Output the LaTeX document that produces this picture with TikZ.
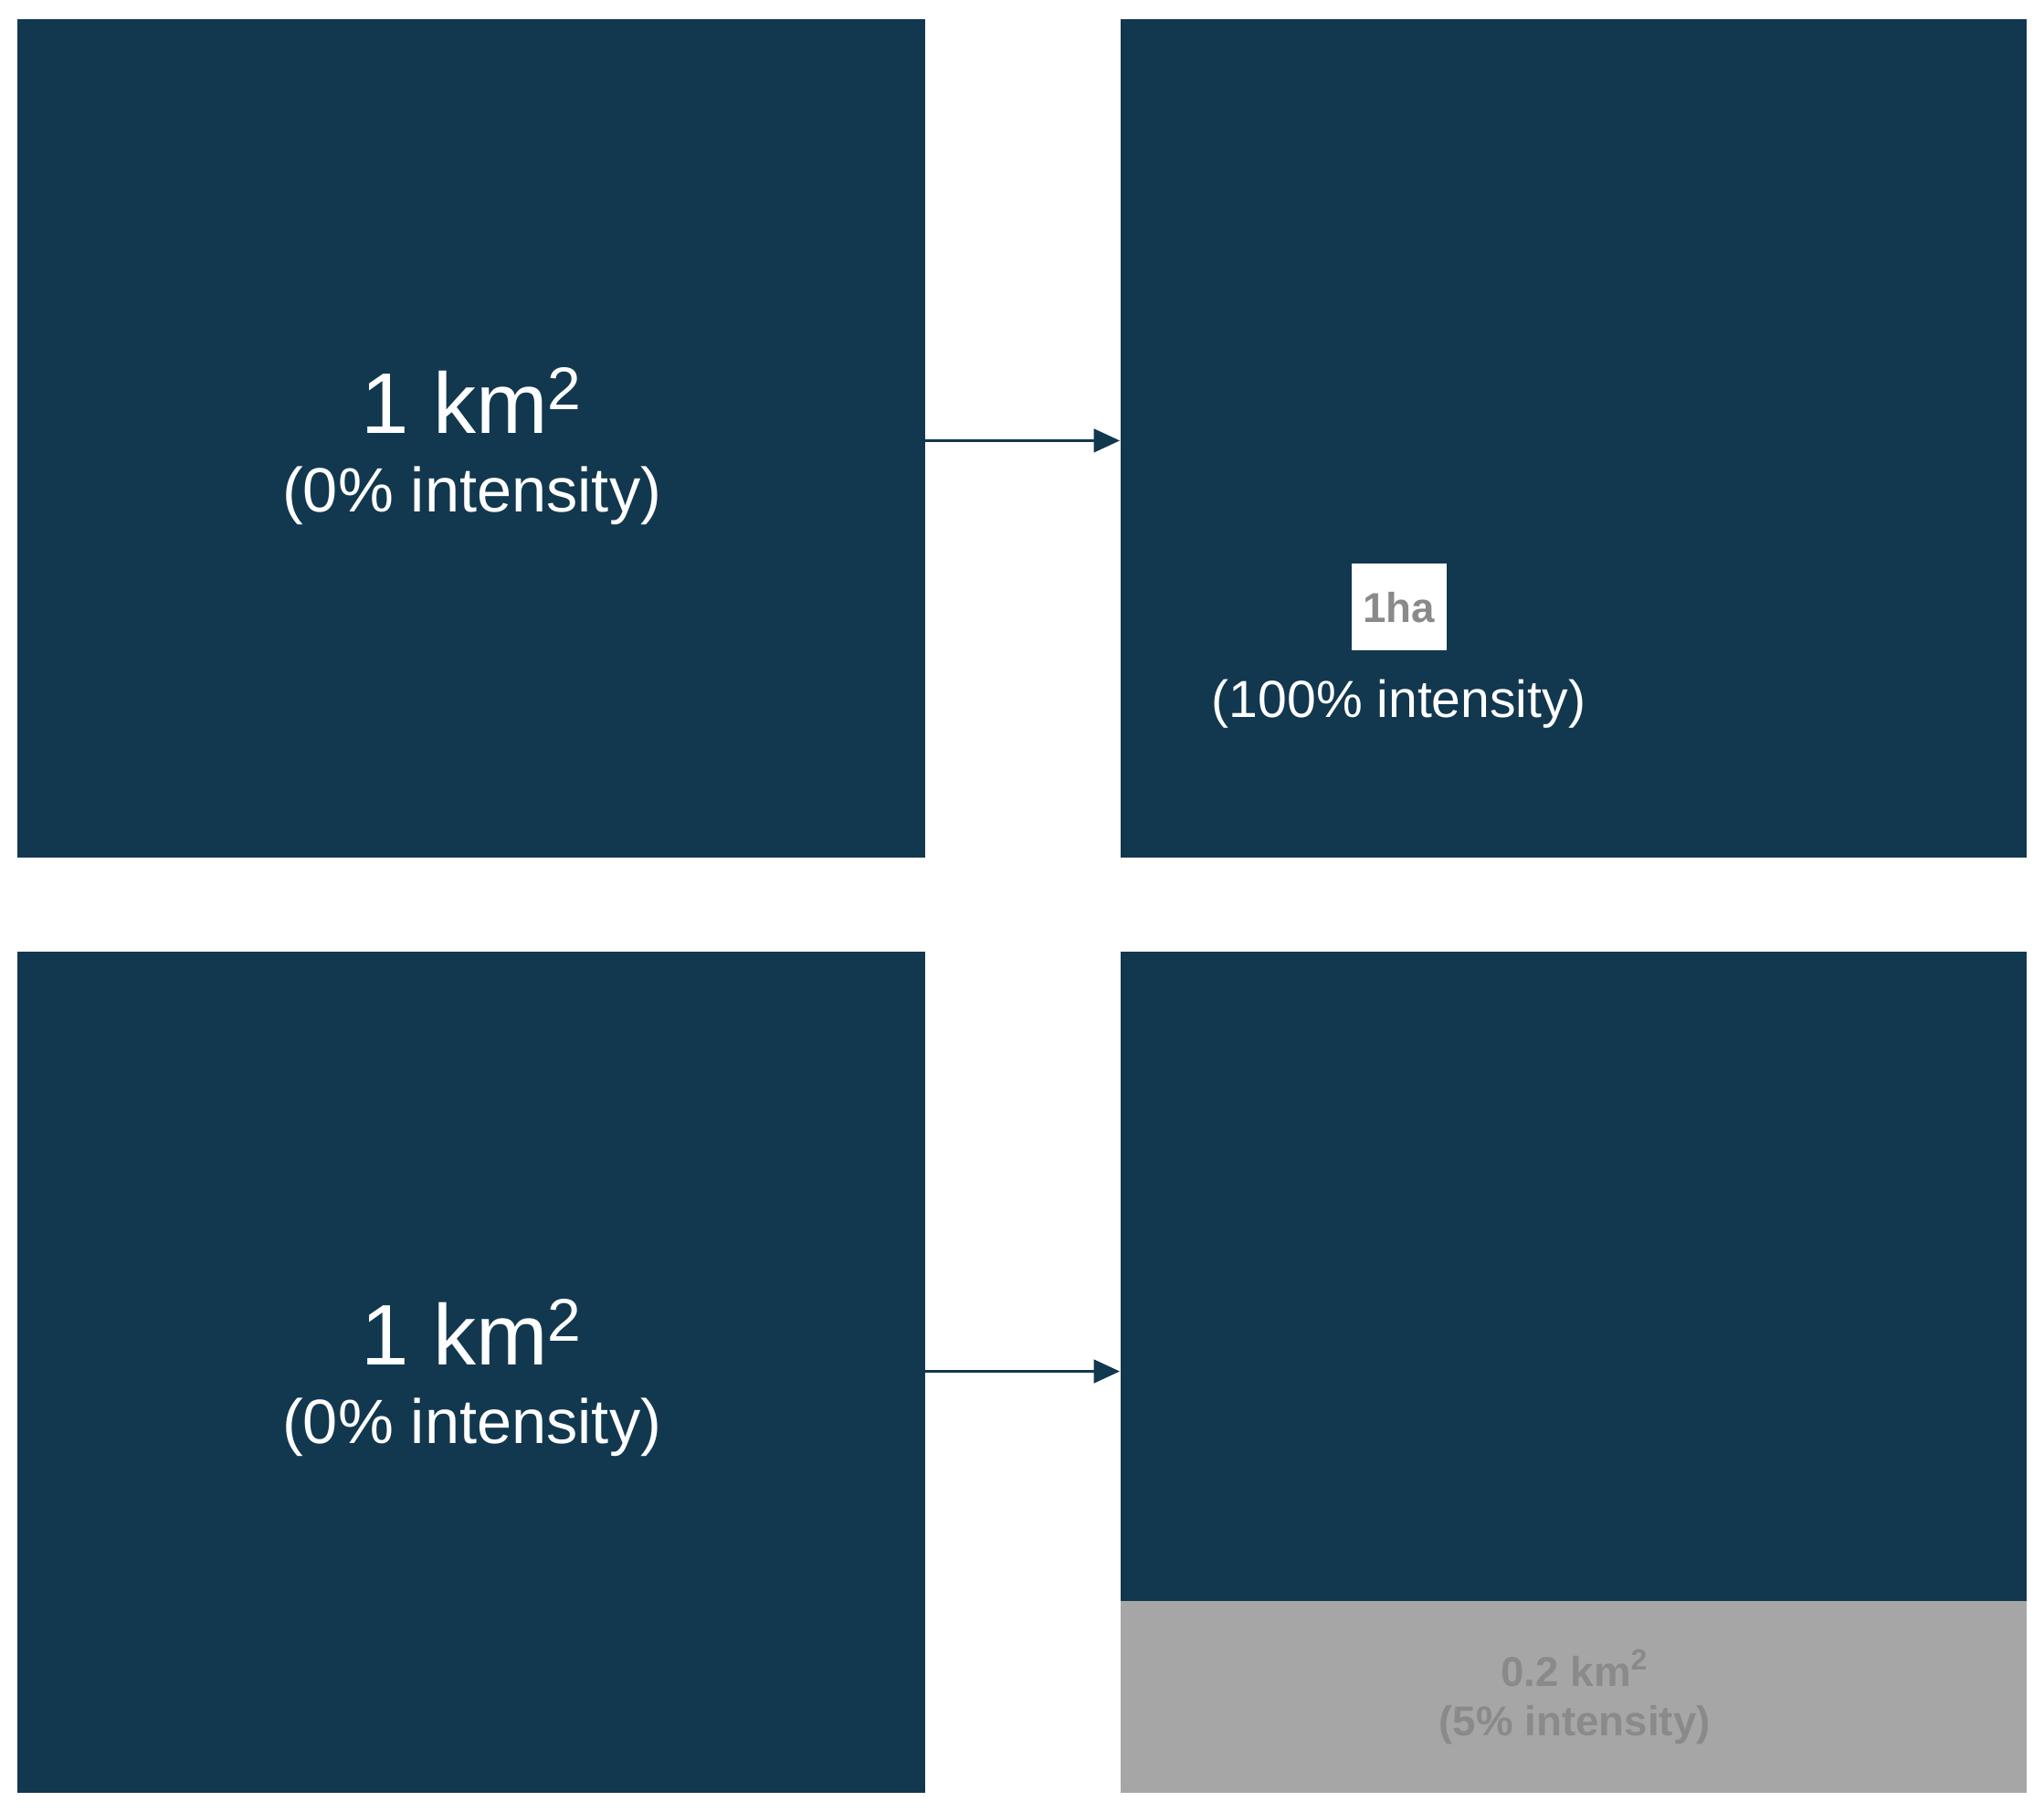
\documentclass[tikz,border=0pt]{standalone}
\usepackage{fontspec}
\setmainfont{Liberation Sans}
\usetikzlibrary{arrows.meta}
\definecolor{navy}{HTML}{12384F}
\definecolor{gstrip}{HTML}{A6A6A6}
\definecolor{gtext}{HTML}{8A8A8A}
\tikzset{box/.style={fill=navy,draw=none},
conn/.style={draw=navy,line width=1pt,-{Triangle[length=10pt,width=9pt]}}}
\begin{document}
\begin{tikzpicture}[x=0.5pt,y=-0.5pt]
\useasboundingbox[fill=white] (0,0) rectangle (1568,1390);
\fill[navy] (13,15) rectangle (710,658);
\fill[navy] (860,15) rectangle (1555,658);
\fill[navy] (13,730) rectangle (710,1375);
\fill[navy] (860,730) rectangle (1555,1228);
\fill[gstrip] (860,1228) rectangle (1555,1375);
\coordinate (a1) at (710,338); \coordinate (b1) at (859,338);
\coordinate (a2) at (710,1052); \coordinate (b2) at (859,1052);
\draw[conn] (a1) -- (b1);
\draw[conn] (a2) -- (b2);
\node[text=white,font=\fontsize{33}{36}\selectfont] (t1) at (362,307) {1 km\textsuperscript{2}};
\node[text=white,font=\fontsize{24}{28}\selectfont] (t2) at (362,380) {(0\% intensity)};
\node[text=white,font=\fontsize{33}{36}\selectfont] (t3) at (362,1022) {1 km\textsuperscript{2}};
\node[text=white,font=\fontsize{24}{28}\selectfont] (t4) at (362,1095) {(0\% intensity)};
\fill[white] (1037,432) rectangle (1110,499);
\node[text=gtext,font=\bfseries\fontsize{16}{18}\selectfont] (ha) at (1073,466) {1ha};
\node[text=white,font=\fontsize{20}{24}\selectfont] (t5) at (1073,540) {(100\% intensity)};
\node[text=gtext,font=\bfseries\fontsize{16}{18}\selectfont] (t6) at (1208,1280) {0.2 km\textsuperscript{2}};
\node[text=gtext,font=\bfseries\fontsize{16}{18}\selectfont] (t7) at (1208,1323) {(5\% intensity)};
\end{tikzpicture}
\end{document}
